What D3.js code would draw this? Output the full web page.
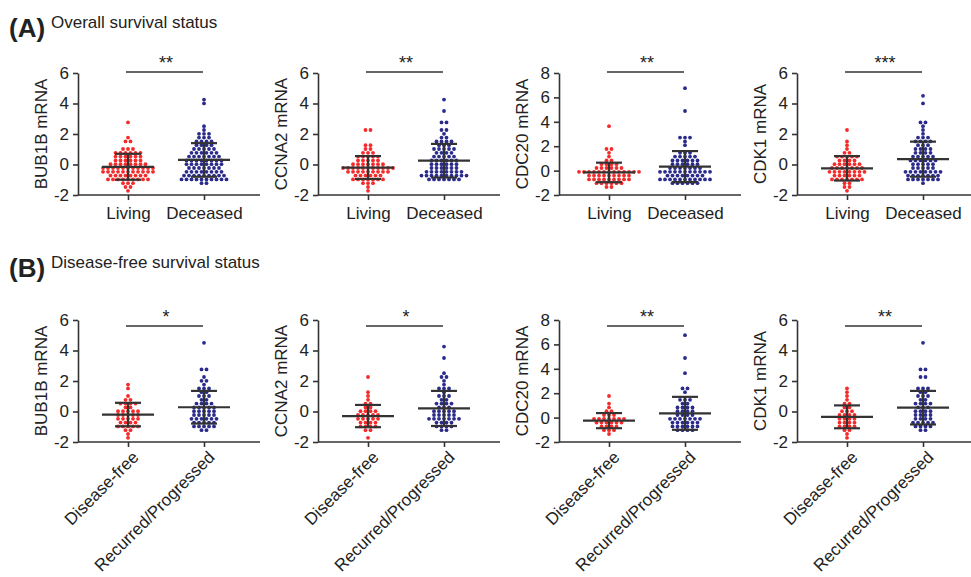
<!DOCTYPE html>
<html>
<head>
<meta charset="utf-8">
<script src="https://cdn.jsdelivr.net/npm/d3@7"></script>
<style>
  body { margin: 0; background: #fff; }
  svg text { font-family: "Liberation Sans", Arial, sans-serif; fill: #222; }
  .axis path, .axis line { stroke: #333; stroke-width: 1.6px; }
  .axis text { font-size: 17px; fill: #222; }
</style>
</head>
<body>
<script>
// gene names and group labels
var genes = ["BUB1B", "CCNA2", "CDC20", "CDK1"];
var groupsA = ["Living", "Deceased"];
var groupsB = ["Disease-free", "Recurred/Progressed"];
var yMax = [6, 6, 8, 6];
var starsA = ["**", "**", "**", "***"];
var starsB = ["*", "*", "**", "**"];

// mean and SD: [mean1, sd1, mean2, sd2]
var statsA = [[-0.15, 0.85, 0.3, 1.1], [-0.2, 0.75, 0.25, 1.1], [-0.15, 0.8, 0.33, 1.27], [-0.25, 0.8, 0.35, 1.15]];
var statsB = [[-0.2, 0.77, 0.28, 1.07], [-0.3, 0.73, 0.2, 1.15], [-0.25, 0.62, 0.35, 1.35], [-0.35, 0.75, 0.25, 1.1]];

// (A) overall survival
var bub1bLiving = [2.8, 1.65, 1.55, 1.4, 1.1, 1.0, 0.9, 0.85, 0.8, 0.75, 0.7, 0.7, 0.65, 0.6, 0.55, 0.5, 0.5, 0.45, 0.4, 0.35, 0.3, 0.3, 0.25, 0.2, 0.15, 0.1, 0.1, 0.05, 0.0, 0.0, -0.05, -0.1, -0.1, -0.15, -0.15, -0.2, -0.2, -0.25, -0.25, -0.3, -0.3, -0.3, -0.35, -0.35, -0.4, -0.4, -0.45, -0.45, -0.5, -0.5, -0.5, -0.55, -0.55, -0.6, -0.6, -0.65, -0.65, -0.7, -0.7, -0.75, -0.8, -0.8, -0.85, -0.9, -0.9, -0.95, -0.95, -1.0, -1.0, -1.05, -1.1, -1.1, -1.15, -1.2, -1.3, -1.4, -1.5, -1.6];
var bub1bDeceased = [4.35, 4.1, 2.4, 2.3, 2.1, 2.0, 1.95, 1.85, 1.8, 1.7, 1.6, 1.5, 1.45, 1.4, 1.35, 1.3, 1.2, 1.15, 1.1, 1.0, 1.0, 0.95, 0.9, 0.85, 0.8, 0.75, 0.7, 0.7, 0.65, 0.6, 0.55, 0.5, 0.5, 0.45, 0.4, 0.4, 0.35, 0.3, 0.3, 0.25, 0.25, 0.2, 0.2, 0.15, 0.1, 0.1, 0.05, 0.0, 0.0, -0.05, -0.1, -0.1, -0.15, -0.2, -0.2, -0.25, -0.3, -0.3, -0.35, -0.4, -0.4, -0.45, -0.5, -0.5, -0.55, -0.6, -0.6, -0.65, -0.7, -0.7, -0.75, -0.75, -0.8, -0.8, -0.85, -0.85, -0.9, -0.9, -0.95, -0.95, -1.0, -1.0, -1.05, -1.05, -1.1, -1.1, -1.15, -1.2];
var ccna2Living = [2.25, 2.2, 1.3, 1.15, 1.0, 0.9, 0.8, 0.75, 0.7, 0.6, 0.55, 0.5, 0.45, 0.4, 0.35, 0.3, 0.25, 0.2, 0.15, 0.1, 0.05, 0.0, 0.0, -0.05, -0.1, -0.1, -0.15, -0.15, -0.2, -0.2, -0.2, -0.25, -0.25, -0.3, -0.3, -0.35, -0.35, -0.4, -0.4, -0.45, -0.45, -0.5, -0.5, -0.55, -0.6, -0.6, -0.65, -0.7, -0.7, -0.75, -0.8, -0.85, -0.9, -0.9, -0.95, -1.0, -1.0, -1.05, -1.1, -1.15, -1.2, -1.3, -1.4, -1.6];
var ccna2Deceased = [4.2, 3.55, 2.75, 2.65, 2.3, 2.25, 2.0, 1.85, 1.7, 1.6, 1.55, 1.5, 1.4, 1.35, 1.3, 1.2, 1.1, 1.05, 1.0, 0.95, 0.9, 0.85, 0.8, 0.7, 0.65, 0.6, 0.55, 0.5, 0.45, 0.4, 0.35, 0.3, 0.3, 0.25, 0.2, 0.15, 0.1, 0.05, 0.0, 0.0, -0.05, -0.1, -0.15, -0.2, -0.2, -0.25, -0.3, -0.35, -0.4, -0.4, -0.45, -0.5, -0.5, -0.55, -0.6, -0.6, -0.65, -0.65, -0.7, -0.7, -0.75, -0.75, -0.8, -0.8, -0.85, -0.85, -0.9, -0.9, -0.95, -1.0, -1.0, -1.05, -1.1];
var cdc20Living = [3.75, 1.85, 1.7, 1.35, 1.1, 0.75, 0.7, 0.6, 0.5, 0.45, 0.4, 0.3, 0.25, 0.2, 0.15, 0.1, 0.1, 0.05, 0.0, 0.0, -0.05, -0.05, -0.1, -0.1, -0.15, -0.15, -0.2, -0.2, -0.25, -0.25, -0.3, -0.3, -0.35, -0.4, -0.4, -0.45, -0.5, -0.5, -0.55, -0.6, -0.6, -0.65, -0.7, -0.7, -0.75, -0.8, -0.8, -0.85, -0.9, -0.95, -1.0, -1.0, -1.05, -1.1, -1.2, -1.3];
var cdc20Deceased = [6.7, 4.8, 2.7, 2.65, 2.55, 2.5, 2.1, 1.6, 1.5, 1.4, 1.3, 1.2, 1.1, 1.0, 1.0, 0.95, 0.9, 0.9, 0.85, 0.8, 0.7, 0.65, 0.6, 0.5, 0.5, 0.45, 0.4, 0.35, 0.3, 0.25, 0.2, 0.15, 0.1, 0.1, 0.05, 0.0, 0.0, -0.05, -0.1, -0.1, -0.15, -0.2, -0.2, -0.25, -0.25, -0.3, -0.35, -0.4, -0.4, -0.45, -0.5, -0.5, -0.55, -0.6, -0.6, -0.65, -0.7, -0.7, -0.75, -0.75, -0.8, -0.8, -0.85, -0.85, -0.9, -0.9, -0.95, -0.95, -1.0, -1.0];
var cdk1Living = [2.3, 1.4, 1.2, 1.0, 0.8, 0.65, 0.6, 0.55, 0.5, 0.45, 0.4, 0.3, 0.25, 0.2, 0.15, 0.1, 0.05, 0.0, -0.05, -0.1, -0.1, -0.15, -0.2, -0.2, -0.25, -0.3, -0.3, -0.35, -0.4, -0.4, -0.45, -0.5, -0.5, -0.55, -0.6, -0.6, -0.65, -0.7, -0.75, -0.8, -0.8, -0.85, -0.9, -0.95, -1.0, -1.0, -1.05, -1.1, -1.1, -1.2, -1.3, -1.4, -1.5, -1.7];
var cdk1Deceased = [4.45, 3.9, 2.8, 2.65, 2.45, 2.3, 2.0, 1.75, 1.7, 1.65, 1.55, 1.5, 1.45, 1.4, 1.3, 1.2, 1.15, 1.1, 1.0, 0.95, 0.9, 0.85, 0.8, 0.7, 0.65, 0.6, 0.55, 0.5, 0.45, 0.4, 0.35, 0.3, 0.3, 0.25, 0.2, 0.15, 0.1, 0.05, 0.0, -0.05, -0.1, -0.15, -0.2, -0.25, -0.3, -0.35, -0.4, -0.4, -0.45, -0.5, -0.5, -0.55, -0.6, -0.6, -0.65, -0.7, -0.7, -0.75, -0.8, -0.8, -0.85, -0.9, -0.9, -0.95, -1.0, -1.0, -1.05, -1.1, -1.2];

// (B) disease-free survival
var bub1bFree = [1.65, 1.45, 0.9, 0.8, 0.7, 0.6, 0.55, 0.5, 0.4, 0.3, 0.2, 0.1, 0.05, 0.0, -0.05, -0.1, -0.15, -0.2, -0.25, -0.3, -0.35, -0.4, -0.45, -0.5, -0.55, -0.6, -0.65, -0.7, -0.75, -0.8, -0.9, -0.95, -1.0, -1.05, -1.1, -1.2, -1.3, -1.45, -1.6];
var bub1bRecurred = [4.4, 2.85, 2.65, 2.3, 2.1, 1.9, 1.8, 1.6, 1.5, 1.4, 1.3, 1.2, 1.1, 1.0, 0.9, 0.8, 0.7, 0.6, 0.5, 0.45, 0.4, 0.35, 0.3, 0.25, 0.2, 0.15, 0.1, 0.05, 0.0, -0.05, -0.1, -0.15, -0.2, -0.25, -0.3, -0.35, -0.4, -0.45, -0.5, -0.5, -0.55, -0.6, -0.65, -0.7, -0.75, -0.8, -0.85, -0.9, -0.95, -1.0, -1.05, -1.1, -1.2, -1.35];
var ccna2Free = [2.2, 1.25, 1.05, 0.8, 0.6, 0.45, 0.35, 0.2, 0.1, 0.0, -0.05, -0.1, -0.15, -0.2, -0.25, -0.3, -0.35, -0.4, -0.45, -0.5, -0.55, -0.6, -0.65, -0.7, -0.75, -0.8, -0.9, -1.0, -1.05, -1.1, -1.2, -1.35, -1.6];
var ccna2Recurred = [4.15, 3.55, 2.6, 2.3, 2.2, 2.0, 1.8, 1.6, 1.5, 1.4, 1.2, 1.1, 1.0, 0.9, 0.8, 0.7, 0.6, 0.5, 0.45, 0.4, 0.3, 0.2, 0.15, 0.1, 0.05, 0.0, -0.05, -0.1, -0.15, -0.2, -0.25, -0.3, -0.35, -0.4, -0.45, -0.5, -0.5, -0.55, -0.6, -0.6, -0.65, -0.7, -0.75, -0.8, -0.9, -0.95, -1.0, -1.1, -1.2, -1.3];
var cdc20Free = [1.85, 1.15, 0.7, 0.5, 0.4, 0.3, 0.2, 0.1, 0.05, 0.0, -0.05, -0.1, -0.15, -0.2, -0.25, -0.3, -0.35, -0.4, -0.45, -0.5, -0.55, -0.6, -0.65, -0.7, -0.8, -0.9, -1.0, -1.1, -1.3];
var cdc20Recurred = [6.7, 4.75, 3.75, 2.5, 2.45, 2.0, 1.6, 1.5, 1.4, 1.2, 1.0, 0.95, 0.9, 0.8, 0.7, 0.6, 0.5, 0.45, 0.4, 0.3, 0.25, 0.2, 0.1, 0.05, 0.0, -0.05, -0.1, -0.15, -0.2, -0.25, -0.3, -0.35, -0.4, -0.45, -0.5, -0.55, -0.6, -0.65, -0.7, -0.75, -0.8, -0.85, -0.9, -0.95, -1.0, -1.05];
var cdk1Free = [1.45, 1.2, 1.0, 0.8, 0.6, 0.45, 0.3, 0.2, 0.1, 0.0, -0.1, -0.15, -0.2, -0.3, -0.35, -0.4, -0.45, -0.5, -0.6, -0.65, -0.7, -0.75, -0.8, -0.9, -1.0, -1.05, -1.1, -1.2, -1.3, -1.5, -1.7];
var cdk1Recurred = [4.45, 2.8, 2.65, 2.35, 2.25, 1.6, 1.5, 1.4, 1.3, 1.2, 1.1, 1.0, 0.9, 0.8, 0.7, 0.6, 0.5, 0.45, 0.4, 0.3, 0.2, 0.15, 0.1, 0.0, -0.05, -0.1, -0.2, -0.25, -0.3, -0.35, -0.4, -0.5, -0.55, -0.6, -0.65, -0.7, -0.75, -0.8, -0.85, -0.9, -1.0, -1.05, -1.1, -1.2, -1.3];

var dataA = [[bub1bLiving, bub1bDeceased], [ccna2Living, ccna2Deceased], [cdc20Living, cdc20Deceased], [cdk1Living, cdk1Deceased]];
var dataB = [[bub1bFree, bub1bRecurred], [ccna2Free, ccna2Recurred], [cdc20Free, cdc20Recurred], [cdk1Free, cdk1Recurred]];

var colors = ["#f52a2a", "#2b2b8c"];
var W = 971, H = 577;
var svg = d3.select("body").append("svg").attr("width", W).attr("height", H);

// panel titles
function title(letter, text, y, tx) {
  svg.append("text").attr("x", 9).attr("y", y).attr("font-size", 26).attr("font-weight", "bold").text(letter);
  svg.append("text").attr("x", tx).attr("y", y - 9).attr("font-size", 17).text(text);
}
title("(A)", "Overall survival status", 37, 51);
title("(B)", "Disease-free survival status", 277, 51);

var plotX = [78, 318, 559, 797];

function drawPanel(top, cats, data, stats, stars, rotated) {
  var h = 122, w = 182;
  genes.forEach(function(gene, i) {
    var g = svg.append("g").attr("transform", "translate(" + plotX[i] + "," + top + ")");
    var y = d3.scaleLinear().domain([-2, yMax[i]]).range([h, 0]);
    var x = d3.scalePoint().domain(cats).range([50, 126]);

    // y axis
    g.append("g").attr("class", "axis")
      .call(d3.axisLeft(y).ticks(yMax[i] / 2 + 1).tickSize(5).tickSizeOuter(0).tickFormat(function(d) { return String(d); }))
      .call(function(a) { a.selectAll("text").attr("dx", "-1px"); });

    // x axis
    var xa = g.append("g").attr("class", "axis").attr("transform", "translate(0," + h + ")")
      .call(d3.axisBottom(x).tickSize(5).tickPadding(6));
    xa.select(".domain").remove();
    xa.append("line").attr("x1", 0).attr("x2", w).attr("y1", 0).attr("y2", 0);
    if (rotated) {
      xa.selectAll("text").attr("text-anchor", "end").attr("font-size", 18)
        .attr("transform", "translate(7,12) rotate(-45)").attr("dy", "0.35em").attr("y", 0).attr("x", 0);
    } else {
      xa.selectAll("text").attr("dy", "0.75em");
    }

    // y label
    g.append("text").attr("transform", "translate(-31," + (h / 2) + ") rotate(-90)")
      .attr("text-anchor", "middle").attr("font-size", 17).text(gene + " mRNA");

    // dots, arranged in rows
    cats.forEach(function(c, k) {
      var rowH = 3.8;
      var rows = d3.group(data[i][k], function(v) { return Math.round(y(v) / rowH); });
      var pts = [];
      rows.forEach(function(vals, r) {
        vals.forEach(function(v, j) {
          pts.push({ cx: x(c) + (j - (vals.length - 1) / 2) * 5, cy: r * rowH });
        });
      });
      g.selectAll(null).data(pts).enter().append("circle")
        .attr("cx", function(d) { return d.cx; }).attr("cy", function(d) { return d.cy; })
        .attr("r", 1.9).attr("fill", colors[k]);

      // mean and SD bars
      var m = stats[i][k * 2], s = stats[i][k * 2 + 1];
      var ln = g.append("g").attr("stroke", "#333").attr("stroke-width", 2.2);
      ln.append("line").attr("x1", x(c) - 26).attr("x2", x(c) + 26).attr("y1", y(m)).attr("y2", y(m));
      ln.append("line").attr("x1", x(c) - 13).attr("x2", x(c) + 13).attr("y1", y(m + s)).attr("y2", y(m + s));
      ln.append("line").attr("x1", x(c) - 13).attr("x2", x(c) + 13).attr("y1", y(m - s)).attr("y2", y(m - s));
      ln.append("line").attr("x1", x(c)).attr("x2", x(c)).attr("y1", y(m + s)).attr("y2", y(m - s));
    });

    // significance bar
    var sy = rotated ? 7 : 0;
    g.append("line").attr("x1", x(cats[0]) - 2).attr("x2", x(cats[1]) - 1).attr("y1", sy - 1).attr("y2", sy - 1)
      .attr("stroke", "#333").attr("stroke-width", 1.6);
    g.append("text").attr("x", (x(cats[0]) + x(cats[1])) / 2).attr("y", sy - 4)
      .attr("text-anchor", "middle").attr("font-size", 18).attr("fill", "#555").text(stars[i]);
  });
}

drawPanel(73, groupsA, dataA, statsA, starsA, false);
drawPanel(320, groupsB, dataB, statsB, starsB, true);
</script>
</body>
</html>
